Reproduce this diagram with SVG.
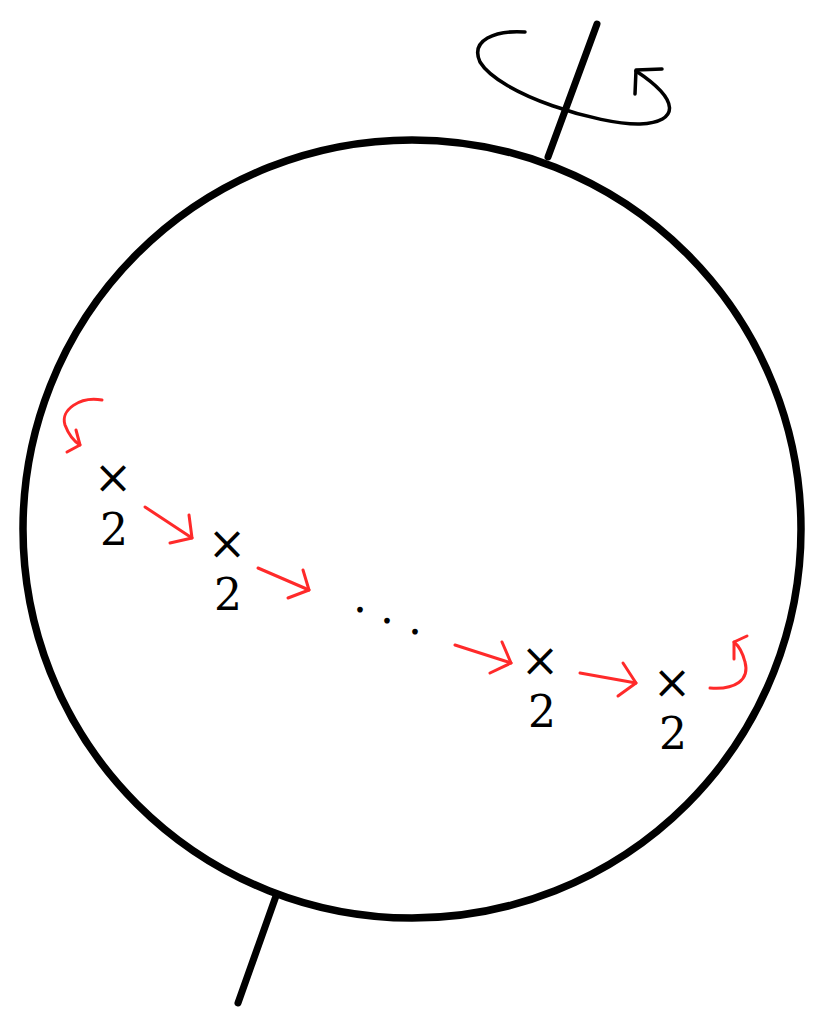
<svg xmlns="http://www.w3.org/2000/svg" width="831" height="1031" viewBox="0 0 831 1031">
<style>
.blk{fill:none;stroke:#000;stroke-linecap:round;stroke-linejoin:round}
.red{fill:none;stroke:#ff2a2a;stroke-width:3;stroke-linecap:round;stroke-linejoin:round}
.t{font-family:"DejaVu Serif","Liberation Serif",serif;fill:#000;text-anchor:middle}
.x{font-size:46px}
.d{font-size:44px}
</style>
<rect width="831" height="1031" fill="#fff"/>
<g id="sphere">
<circle cx="412" cy="529" r="389" class="blk" stroke-width="7.5"/>
</g>
<g id="axis">
<line x1="548" y1="157" x2="597" y2="24" class="blk" stroke-width="7"/>
<line x1="276" y1="896" x2="238" y2="1003" class="blk" stroke-width="7"/>
</g>
<g id="rotation">
<path d="M525,32 C495,30 470,40 480,62 C500,95 600,125 640,124 C680,122 680,100 636,71" class="blk" stroke-width="3.5"/>
<path d="M662,69 L636,70 L635,94" class="blk" stroke-width="3.5"/>
</g>
<g id="connectors">
<path d="M102,400 C80,396 60,410 65,425 C68,433 72,440 80,445" class="red"/>
<path d="M67,452 L80,445 L76,430" class="red"/>
<path d="M145,507 L192,538" class="red"/>
<path d="M170,543 L192,538 L189,515" class="red"/>
<path d="M258,568 L309,590" class="red"/>
<path d="M288,598 L309,590 L303,570" class="red"/>
<path d="M455,645 L511,663" class="red"/>
<path d="M490,673 L511,663 L502,642" class="red"/>
<path d="M580,673 L636,683" class="red"/>
<path d="M618,696 L636,683 L623,663" class="red"/>
<path d="M710,688 C735,690 750,680 745,662 C743,654 740,647 734,642" class="red"/>
<path d="M747,636 L734,642 L734,659" class="red"/>
</g>
<g id="node1"><text class="t"><tspan x="113" y="493" class="x">×</tspan><tspan x="114" y="545" class="d">2</tspan></text></g>
<g id="node2"><text class="t"><tspan x="227" y="559" class="x">×</tspan><tspan x="228" y="610" class="d">2</tspan></text></g>
<g id="dots"><text class="t d"><tspan x="360" y="612">.</tspan><tspan x="387" y="623">.</tspan><tspan x="415" y="634">.</tspan></text></g>
<g id="node3"><text class="t"><tspan x="540" y="676" class="x">×</tspan><tspan x="542" y="727" class="d">2</tspan></text></g>
<g id="node4"><text class="t"><tspan x="672" y="698" class="x">×</tspan><tspan x="673" y="749" class="d">2</tspan></text></g>
</svg>
